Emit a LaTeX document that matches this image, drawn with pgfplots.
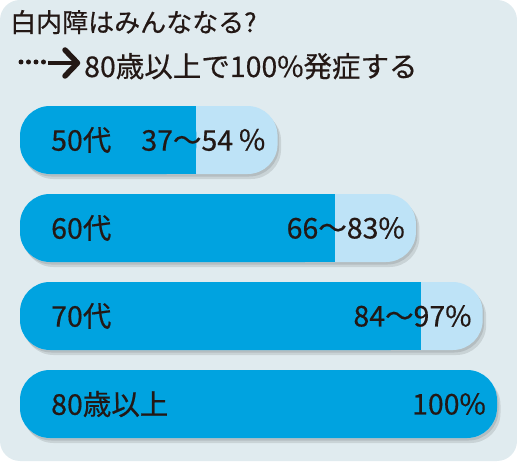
\documentclass[border=0pt]{standalone}
\usepackage{pgfplots}
\pgfplotsset{compat=1.18}
\usepackage{pgfplotstable}
\usepackage{fontspec}
\setmainfont{Noto Sans CJK JP}[FakeBold=0.5]

\definecolor{cbg}{HTML}{E0EBEF}
\definecolor{cdark}{HTML}{00A3E0}
\definecolor{clight}{HTML}{BEE3F7}
\definecolor{ctext}{HTML}{231815}

% low / high end of each age group's range (%)
\pgfplotstableread{
pos low high err cat range
1 37 54 8 50代 37～54\,％
2 66 83 8 60代 66～83\%
3 84 97 8 70代 84～97\%
4 100 100 0 80歳以上 100\%
}\cataract

\begin{document}
\begin{tikzpicture}
	\useasboundingbox (0,0) rectangle (517pt,461pt);
	\fill[cbg, rounded corners=20pt] (0,0) rectangle (517pt,461pt);
	\node[anchor=base west, text=ctext, inner sep=0pt,
		font=\fontsize{26}{30}\selectfont] at (10pt,429pt)
		{白内障はみんななる?};
	% dotted arrow in front of the subtitle
	\foreach \dx in {21,28.5,36,43.5}
		\fill[ctext] (\dx pt,399pt) circle (2.5pt);
	\draw[ctext, line width=4pt] (48pt,398pt) -- (76pt,398pt);
	\draw[ctext, line width=5.5pt, line cap=round, line join=round]
		(65pt,411pt) -- (77.5pt,398pt) -- (65pt,385pt);
	\node[anchor=base west, text=ctext, inner sep=0pt,
		font=\fontsize{28.5}{33}\selectfont] at (84pt,384pt)
		{80歳以上で100\%発症する};
	\begin{axis}[
		at={(20pt,13pt)}, anchor=south west,
		scale only axis, width=477pt, height=352pt,
		xmin=0, xmax=100,
		ymin=0.5, ymax=4.5, y dir=reverse,
		hide axis, clip=false,
		bar width=68pt,
		every node near coord/.append style={text=ctext, inner sep=0pt,
			font=\fontsize{28.5}{33}\selectfont},
	]
		% soft shadow
		\addplot[xbar, draw=none, fill=black, opacity=0.1, rounded corners=30pt,
			xshift=1.5pt, yshift=-2.5pt]
			table[x=high, y=pos] {\cataract};
		\addplot[xbar, draw=none, fill=black, opacity=0.1, rounded corners=30pt,
			xshift=3.5pt, yshift=-5pt]
			table[x=high, y=pos] {\cataract};
		% upper end of range
		\addplot[xbar, draw=none, fill=clight, rounded corners=30pt]
			table[x=high, y=pos] {\cataract};
		% lower end of range, right edge squared off by the error bar
		\addplot[xbar, draw=none, fill=cdark, rounded corners=30pt,
			error bars/.cd, x dir=minus, x explicit, error mark=none,
			error bar style={draw=cdark, line width=68pt}]
			table[x=low, y=pos, x error=err] {\cataract};
		% labels
		\addplot[draw=none, nodes near coords, point meta=explicit symbolic,
			every node near coord/.append style={anchor=west, xshift=31pt}]
			table[x expr=0, y=pos, meta=cat] {\cataract};
		\addplot[draw=none, nodes near coords, point meta=explicit symbolic,
			every node near coord/.append style={anchor=east, xshift=-11pt}]
			table[x=high, y=pos, meta=range] {\cataract};
	\end{axis}
\end{tikzpicture}
\end{document}
